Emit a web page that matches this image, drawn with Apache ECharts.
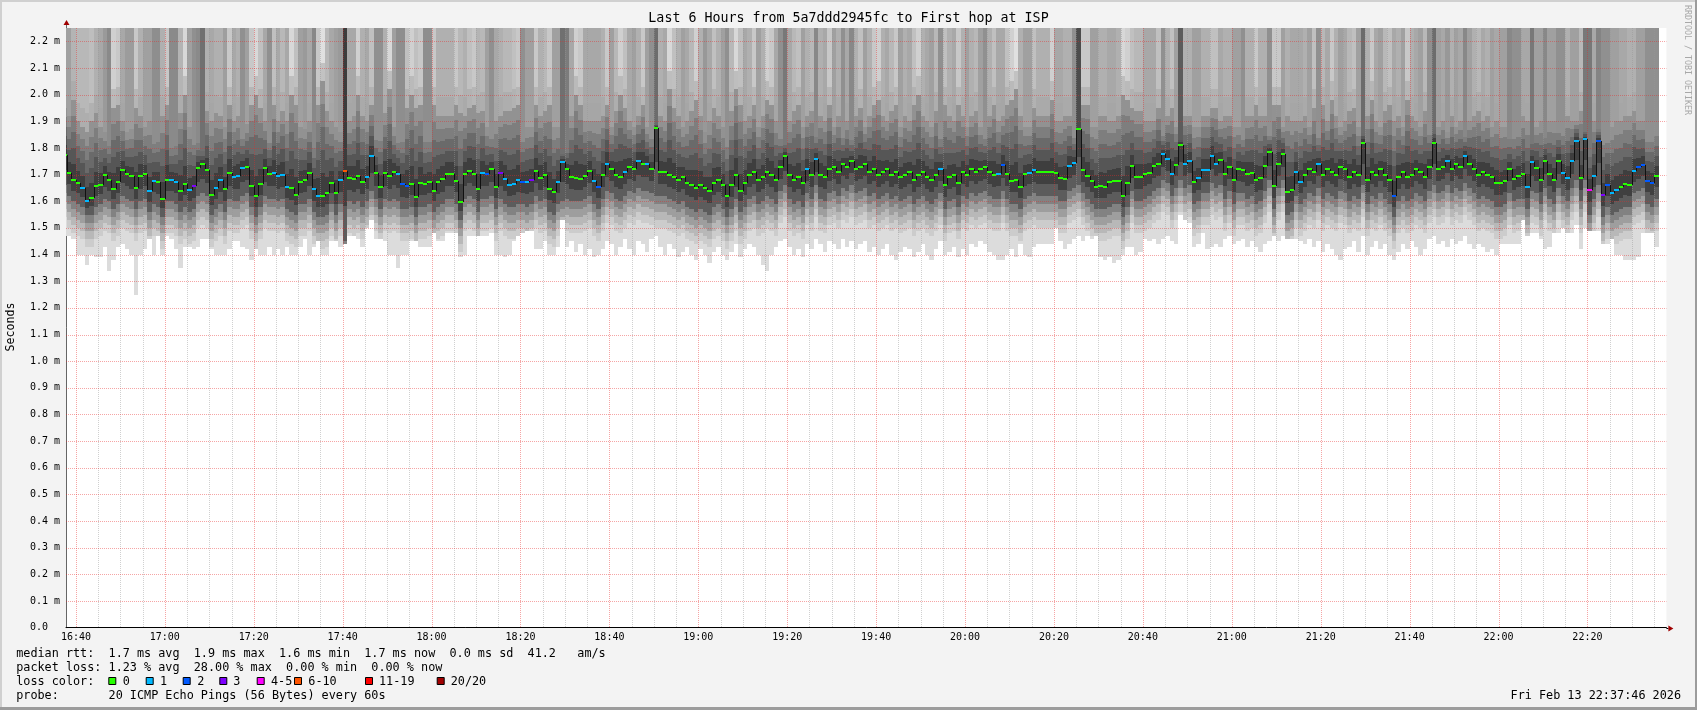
<!DOCTYPE html>
<html><head><meta charset="utf-8">
<script src="https://cdn.jsdelivr.net/npm/echarts@6/dist/echarts.min.js"></script>
<style>html,body{margin:0;padding:0;background:#f3f3f3}#c{width:1697px;height:710px}</style>
</head><body><div id="c"></div>
<script>
// ---------- data ----------
const titleText = 'Last 6 Hours from 5a7ddd2945fc to First hop at ISP';
const yAxisName = 'Seconds';
const watermark = 'RRDTOOL / TOBI OETIKER';
const legendLine1 = 'median rtt:  1.7 ms avg  1.9 ms max  1.6 ms min  1.7 ms now  0.0 ms sd  41.2   am/s';
const legendLine2 = 'packet loss: 1.23 % avg  28.00 % max  0.00 % min  0.00 % now';
const legendLine3 = 'loss color:';
const legendLine4 = 'probe:       20 ICMP Echo Pings (56 Bytes) every 60s';
const dateText = 'Fri Feb 13 22:37:46 2026';
const lossLabels = ['0','1','2','3','4-5','6-10','11-19','20/20'];
const lossColors = ['#26ff00','#00b8ff','#0059ff','#7e00ff','#ff00ff','#ff5500','#ff0000','#a10000'];

const xTickMinutes = [40,60,80,100,120,140,160,180,200,220,240,260,280,300,320,340,360,380];
const xTickLabels = ['16:40','17:00','17:20','17:40','18:00','18:20','18:40','19:00','19:20','19:40','20:00','20:20','20:40','21:00','21:20','21:40','22:00','22:20'];
const yTicks = [0,0.1,0.2,0.3,0.4,0.5,0.6,0.7,0.8,0.9,1.0,1.1,1.2,1.3,1.4,1.5,1.6,1.7,1.8,1.9,2.0,2.1,2.2];

// one column per minute, first column starts 16:37 (minutes after 16:00)
const firstMinute = 37;
const med = [
1.774,1.706,1.679,1.669,1.650,1.601,1.611,1.656,1.661,1.699,
1.679,1.646,1.671,1.716,1.701,1.695,1.650,1.695,1.701,1.638,
1.676,1.671,1.608,1.679,1.679,1.671,1.639,1.664,1.641,1.656,
1.725,1.739,1.716,1.624,1.650,1.679,1.645,1.706,1.691,1.695,
1.725,1.729,1.658,1.620,1.665,1.725,1.701,1.705,1.695,1.698,
1.654,1.649,1.624,1.671,1.679,1.706,1.645,1.620,1.620,1.630,
1.669,1.630,1.679,1.714,1.688,1.683,1.695,1.673,1.691,1.769,
1.706,1.654,1.706,1.695,1.709,1.702,1.664,1.658,1.665,1.616,
1.669,1.665,1.673,1.639,1.673,1.683,1.702,1.702,1.676,1.598,
1.702,1.714,1.702,1.645,1.706,1.702,1.721,1.654,1.707,1.684,
1.661,1.665,1.679,1.673,1.673,1.679,1.714,1.688,1.699,1.646,
1.634,1.671,1.747,1.721,1.691,1.688,1.684,1.695,1.714,1.676,
1.654,1.700,1.740,1.720,1.700,1.690,1.710,1.730,1.720,1.750,
1.740,1.740,1.720,1.876,1.710,1.710,1.700,1.690,1.680,1.690,
1.670,1.660,1.650,1.660,1.650,1.640,1.670,1.680,1.660,1.620,
1.660,1.700,1.640,1.670,1.700,1.710,1.680,1.690,1.710,1.700,
1.680,1.730,1.770,1.700,1.680,1.690,1.670,1.720,1.700,1.760,
1.700,1.690,1.720,1.730,1.710,1.740,1.730,1.750,1.720,1.730,
1.740,1.710,1.720,1.700,1.710,1.720,1.700,1.710,1.690,1.700,
1.710,1.680,1.700,1.710,1.690,1.680,1.700,1.720,1.660,1.690,
1.700,1.670,1.710,1.700,1.720,1.710,1.720,1.730,1.710,1.700,
1.701,1.737,1.701,1.676,1.678,1.654,1.702,1.706,1.716,1.710,
1.710,1.710,1.710,1.706,1.687,1.684,1.732,1.744,1.870,1.716,
1.695,1.676,1.654,1.658,1.654,1.672,1.676,1.676,1.620,1.670,
1.731,1.691,1.691,1.702,1.706,1.732,1.741,1.777,1.759,1.702,
1.736,1.811,1.740,1.751,1.672,1.687,1.717,1.717,1.770,1.740,
1.755,1.702,1.729,1.680,1.721,1.717,1.702,1.706,1.680,1.687,
1.732,1.785,1.658,1.740,1.777,1.635,1.643,1.710,1.672,1.700,
1.720,1.710,1.740,1.700,1.720,1.710,1.700,1.730,1.720,1.690,
1.710,1.700,1.820,1.680,1.710,1.700,1.720,1.700,1.680,1.620,
1.690,1.710,1.690,1.700,1.720,1.710,1.690,1.730,1.820,1.720,
1.730,1.750,1.720,1.740,1.730,1.770,1.740,1.720,1.700,1.710,
1.700,1.690,1.670,1.669,1.676,1.721,1.684,1.694,1.701,1.652,
1.747,1.725,1.679,1.751,1.701,1.679,1.751,1.706,1.687,1.751,
1.826,1.687,1.833,1.641,1.695,1.826,1.622,1.661,1.631,1.642,
1.654,1.665,1.661,1.714,1.729,1.736,1.676,1.669,1.695];
// loss color class per column (0 .. 7, index into lossColors)
const loss = [
0,0,0,0,1,1,0,0,0,0, 0,0,0,0,0,0,0,0,0,1, 1,0,0,0,1,1,0,0,1,3, 0,0,0,0,1,1,0,0,1,1,
1,0,0,0,0,0,0,1,1,1, 1,0,0,0,0,0,1,1,0,0, 0,0,1,5,0,0,0,0,1,1, 0,0,0,0,0,1,2,2,0,0,
0,0,0,0,0,0,0,0,0,0, 0,0,0,0,1,2,0,0,3,1, 1,1,1,2,1,3,0,0,0,0, 0,1,1,0,0,0,0,0,0,1,
2,0,1,0,0,0,1,0,0,1, 0,1,0,0,0,0,0,0,0,0, 0,0,0,0,0,0,0,0,0,0, 0,0,0,0,0,0,0,0,0,0,
0,0,0,0,0,0,0,1,0,1, 0,0,0,0,0,0,0,0,0,0, 0,0,0,0,0,0,0,0,0,0, 0,0,0,0,0,0,0,1,0,0,
0,0,0,0,0,0,0,0,0,0, 1,2,0,0,0,0,0,1,1,0, 0,0,0,0,0,0,1,1,0,0, 0,0,0,0,0,0,0,0,0,0,
0,0,0,0,0,0,0,1,1,1, 0,0,1,1,0,1,1,1,1,1, 0,0,0,0,0,0,0,0,0,0, 0,0,0,0,0,0,0,1,1,0,
0,0,1,0,0,0,0,0,0,0, 0,0,0,0,0,0,0,0,0,2, 0,0,0,0,0,0,0,0,0,0, 0,1,0,0,0,1,0,0,0,0,
0,0,0,0,0,0,0,0,0,1, 1,0,0,0,0,0,0,1,1,1, 1,0,1,4,1,2,3,2,1,1, 0,0,0,1,2,2,2,2,0];
// lowest ping per column
const lo = [
1.47,1.47,1.46,1.40,1.40,1.36,1.40,1.39,1.39,1.43, 1.34,1.38,1.43,1.44,1.42,1.40,1.25,1.40,1.42,1.46,
1.40,1.47,1.40,1.47,1.46,1.42,1.35,1.43,1.43,1.42, 1.43,1.46,1.46,1.42,1.40,1.40,1.40,1.42,1.45,1.45,
1.43,1.42,1.38,1.42,1.40,1.40,1.43,1.40,1.42,1.40, 1.43,1.40,1.40,1.43,1.46,1.40,1.43,1.45,1.40,1.40,
1.45,1.45,1.43,1.44,1.47,1.47,1.46,1.43,1.50,1.53, 1.46,1.46,1.45,1.40,1.40,1.35,1.40,1.40,1.45,1.45,
1.43,1.43,1.43,1.48,1.45,1.45,1.48,1.48,1.48,1.39, 1.40,1.47,1.47,1.47,1.47,1.47,1.48,1.40,1.40,1.39,
1.40,1.45,1.47,1.48,1.49,1.49,1.42,1.42,1.45,1.40, 1.40,1.43,1.53,1.43,1.45,1.41,1.44,1.40,1.42,1.39,
1.40,1.42,1.45,1.44,1.40,1.43,1.46,1.42,1.40,1.45, 1.44,1.41,1.46,1.47,1.43,1.40,1.44,1.42,1.39,1.41,
1.43,1.40,1.38,1.42,1.40,1.37,1.41,1.43,1.40,1.38, 1.41,1.44,1.39,1.42,1.44,1.43,1.40,1.36,1.34,1.40,
1.43,1.45,1.46,1.43,1.40,1.42,1.39,1.44,1.42,1.46, 1.44,1.41,1.45,1.44,1.42,1.46,1.43,1.45,1.42,1.44,
1.45,1.41,1.43,1.40,1.42,1.44,1.40,1.38,1.41,1.43, 1.42,1.39,1.41,1.44,1.40,1.38,1.42,1.45,1.40,1.41,
1.43,1.39,1.42,1.40,1.44,1.43,1.45,1.44,1.41,1.40, 1.38,1.38,1.40,1.42,1.39,1.44,1.40,1.39,1.43,1.44,
1.44,1.44,1.44,1.50,1.45,1.42,1.44,1.46,1.47,1.45, 1.47,1.46,1.47,1.39,1.38,1.39,1.37,1.38,1.40,1.43,
1.43,1.40,1.41,1.46,1.45,1.46,1.44,1.46,1.47,1.45, 1.44,1.55,1.53,1.52,1.43,1.44,1.48,1.42,1.43,1.44,
1.43,1.46,1.47,1.44,1.45,1.46,1.43,1.45,1.43,1.41, 1.44,1.45,1.47,1.45,1.47,1.46,1.46,1.46,1.45,1.44,
1.46,1.43,1.45,1.41,1.44,1.42,1.40,1.38,1.42,1.43, 1.45,1.41,1.47,1.40,1.43,1.45,1.42,1.44,1.40,1.38,
1.41,1.44,1.42,1.45,1.43,1.40,1.42,1.46,1.47,1.44, 1.45,1.43,1.46,1.44,1.45,1.47,1.44,1.42,1.44,1.43,
1.41,1.42,1.40,1.44,1.44,1.44,1.44,1.44,1.53,1.47, 1.48,1.48,1.46,1.42,1.43,1.48,1.48,1.50,1.48,1.48,
1.51,1.42,1.50,1.49,1.49,1.49,1.44,1.44,1.46,1.40, 1.40,1.38,1.38,1.38,1.39,1.48,1.48,1.48,1.43];
// lower edge of the dense (dark) smoke
const dl = [
1.66,1.62,1.60,1.59,1.58,1.55,1.55,1.58,1.59,1.61, 1.60,1.57,1.59,1.62,1.61,1.60,1.57,1.60,1.61,1.56,
1.59,1.58,1.54,1.60,1.60,1.59,1.56,1.58,1.56,1.57, 1.62,1.63,1.62,1.55,1.57,1.59,1.56,1.61,1.60,1.60,
1.62,1.63,1.58,1.54,1.58,1.62,1.61,1.61,1.60,1.61, 1.57,1.56,1.55,1.59,1.59,1.61,1.56,1.54,1.54,1.55,
1.59,1.55,1.59,1.45,1.60,1.59,1.60,1.58,1.60,1.64, 1.61,1.57,1.61,1.60,1.61,1.60,1.57,1.57,1.58,1.54,
1.58,1.58,1.59,1.56,1.58,1.59,1.61,1.61,1.59,1.53, 1.61,1.62,1.61,1.56,1.61,1.61,1.62,1.57,1.61,1.59,
1.58,1.58,1.59,1.59,1.58,1.59,1.62,1.60,1.61,1.56, 1.55,1.59,1.60,1.61,1.60,1.60,1.60,1.61,1.62,1.59,
1.57,1.61,1.64,1.63,1.61,1.60,1.62,1.64,1.63,1.65, 1.64,1.64,1.63,1.62,1.62,1.62,1.61,1.60,1.59,1.60,
1.58,1.57,1.56,1.57,1.56,1.55,1.58,1.59,1.57,1.54, 1.57,1.61,1.56,1.58,1.61,1.62,1.59,1.60,1.62,1.61,
1.59,1.64,1.66,1.61,1.59,1.60,1.58,1.63,1.61,1.66, 1.61,1.60,1.63,1.64,1.62,1.65,1.64,1.66,1.63,1.64,
1.65,1.62,1.63,1.61,1.62,1.63,1.61,1.62,1.60,1.61, 1.62,1.59,1.61,1.62,1.60,1.59,1.61,1.63,1.57,1.60,
1.61,1.58,1.62,1.61,1.63,1.62,1.63,1.64,1.62,1.61, 1.61,1.64,1.61,1.59,1.59,1.57,1.61,1.62,1.63,1.62,
1.62,1.62,1.62,1.62,1.60,1.60,1.64,1.65,1.66,1.63, 1.61,1.59,1.57,1.57,1.57,1.58,1.59,1.59,1.54,1.58,
1.64,1.60,1.60,1.61,1.62,1.64,1.65,1.68,1.67,1.62, 1.65,1.68,1.65,1.66,1.59,1.60,1.63,1.63,1.67,1.65,
1.66,1.61,1.64,1.59,1.63,1.63,1.61,1.62,1.59,1.60, 1.64,1.68,1.57,1.65,1.68,1.55,1.56,1.62,1.59,1.61,
1.63,1.62,1.65,1.61,1.63,1.62,1.61,1.64,1.63,1.60, 1.62,1.61,1.66,1.59,1.62,1.61,1.63,1.61,1.59,1.54,
1.60,1.62,1.60,1.61,1.63,1.62,1.60,1.64,1.66,1.63, 1.64,1.66,1.63,1.65,1.64,1.67,1.65,1.63,1.61,1.62,
1.61,1.60,1.58,1.58,1.59,1.63,1.60,1.61,1.61,1.57, 1.64,1.63,1.59,1.65,1.61,1.59,1.65,1.62,1.60,1.65,
1.68,1.60,1.68,1.55,1.61,1.66,1.54,1.58,1.55,1.56, 1.57,1.58,1.58,1.63,1.64,1.65,1.59,1.58,1.61];
// upper edge of the mid-grey smoke
const hi = [
1.95,1.92,1.98,1.90,1.88,1.86,1.90,1.93,1.88,1.86, 1.84,1.95,1.96,1.90,1.86,1.87,1.95,1.92,1.88,1.90,
1.85,1.86,1.92,1.96,1.83,1.84,1.93,2.00,1.88,1.85, 1.84,1.82,1.94,1.90,1.93,1.92,1.88,1.96,1.90,1.92,
1.86,1.89,1.96,2.00,1.95,1.90,1.85,1.96,1.90,1.94, 1.90,2.00,1.96,1.88,1.87,1.90,1.84,1.96,2.05,1.94,
1.90,1.88,1.86,1.80,1.90,1.92,2.00,1.92,1.90,1.96, 1.86,1.87,1.93,2.02,1.88,1.85,1.86,1.95,2.00,1.95,
1.96,1.86,1.86,1.96,1.92,1.92,1.92,1.92,1.96,1.93, 1.92,1.95,1.96,1.93,1.94,1.88,1.86,1.90,1.92,1.94,
1.94,1.95,1.96,1.86,1.88,1.88,1.96,1.92,1.94,1.96, 1.88,1.88,1.80,1.82,1.92,2.00,1.96,1.90,1.90,1.90,
1.90,1.92,1.96,1.88,1.94,2.00,1.95,1.90,1.88,1.92, 1.96,1.88,1.86,1.90,1.92,1.90,2.02,1.95,1.92,1.88,
1.90,1.94,1.98,1.92,1.86,1.90,1.95,1.92,1.88,1.85, 1.94,2.02,1.96,1.90,1.92,1.96,1.88,1.92,1.98,1.96,
1.90,1.86,1.84,1.90,1.94,1.96,1.88,1.92,1.94,1.86, 1.92,1.90,1.96,1.88,1.92,1.86,1.90,1.85,1.92,1.95,
1.88,1.92,1.96,1.98,1.92,1.90,1.94,1.96,1.88,1.92, 1.90,1.96,2.00,1.92,1.90,1.88,1.94,1.86,1.96,1.92,
1.90,1.96,1.92,1.88,1.92,1.94,1.88,1.86,1.92,1.96, 1.90,1.92,1.96,1.98,2.02,1.92,1.88,1.88,1.95,1.92,
1.92,1.92,1.98,1.90,1.90,1.92,1.92,1.86,1.90,1.96, 1.96,1.88,1.88,1.92,1.92,1.90,1.90,1.92,2.00,1.98,
1.95,1.94,1.94,1.90,1.90,1.90,1.95,1.86,1.92,1.95, 1.88,1.86,1.92,1.92,1.88,1.88,1.92,1.92,1.95,1.95,
1.90,1.92,1.92,1.88,1.88,1.86,1.92,1.92,1.96,1.92, 1.92,1.86,1.96,1.96,1.88,1.92,1.90,1.90,1.90,1.92,
1.88,1.95,1.86,1.96,1.90,1.98,1.92,1.88,1.90,1.94, 1.95,1.88,1.88,1.92,1.98,1.90,1.88,1.94,1.96,1.90,
1.92,1.88,1.98,1.92,1.90,1.88,1.94,1.88,1.90,1.88, 1.90,1.86,1.92,1.88,1.90,1.86,1.90,1.92,1.94,1.90,
1.92,1.88,1.90,1.88,1.88,1.86,1.87,1.88,1.92,1.90, 1.86,1.88,1.90,1.86,1.90,1.90,1.88,1.88,1.92,1.90,
1.90,1.94,1.88,1.85,1.90,1.88,1.86,1.86,1.88,1.90, 1.90,1.92,1.92,1.94,1.90,1.90,1.86,1.86,1.88];
// grey level of the clipped top of each smoke column
const tone = [
0xa0,0xa0,0xb4,0xb8,0xb8,0xb8,0xbe,0xb0,0xa8,0x9a, 0x8a,0xd0,0xc8,0xa8,0x9c,0x9c,0xc8,0xb0,0xa0,0xa0,
0x8e,0x8e,0xb0,0xc8,0x8a,0x8a,0xb4,0xd8,0xa0,0x90, 0x8a,0x70,0xb0,0xa8,0xb0,0xb0,0x9e,0xc8,0xa8,0xb0,
0x90,0xa0,0xc8,0xd8,0xc0,0xa8,0x90,0xc0,0xa8,0xb8, 0xa8,0xd8,0xc0,0xa0,0x9a,0xa8,0x88,0xc8,0xe0,0xb8,
0xa8,0xa0,0x9a,0x3c,0xa8,0xa8,0xd0,0xb0,0xa8,0xc0, 0x90,0x90,0xb0,0xd8,0xa0,0x8e,0x8e,0xc0,0xd0,0xc0,
0xc8,0x8e,0x8e,0xc8,0xb0,0xb0,0xb0,0xb0,0xc8,0xb8, 0xb0,0xc0,0xc8,0xb4,0xb8,0xa0,0x90,0xa8,0xb0,0xb8,
0xb8,0xc0,0xc8,0x90,0xa0,0xa0,0xc8,0xb0,0xb8,0xc8, 0xa0,0xa0,0x70,0x7c,0xa8,0xd0,0xc8,0xa8,0xa8,0xa8,
0xa8,0xb0,0xc8,0xa0,0xb8,0xd0,0xc0,0xa8,0xa0,0xb0, 0xc8,0xa0,0x90,0x6c,0xb0,0xa8,0xd8,0xc0,0xb0,0xa0,
0xa8,0xb8,0xd0,0xb0,0x98,0xa8,0xc0,0xb0,0xa0,0x90, 0xb8,0xd8,0xc0,0xa8,0xb0,0xc8,0xa0,0xb0,0xd0,0xc8,
0xa8,0x90,0x78,0xa8,0xb8,0xc0,0xa0,0xb0,0xb8,0x88, 0xb0,0xa8,0xc8,0xa0,0xb0,0x90,0xa8,0x88,0xb0,0xc0,
0xa0,0xb0,0xc8,0xd0,0xb0,0xa8,0xb8,0xc8,0xa0,0xb0, 0xa8,0xc0,0xd0,0xb0,0xa8,0xa0,0xb8,0x90,0xc0,0xb0,
0xa8,0xc8,0xb0,0xa0,0xb0,0xb8,0xa0,0x90,0xb0,0xc0, 0xa8,0xa8,0xc0,0xd0,0xe0,0xb0,0xa0,0xa0,0xc0,0xb0,
0xb0,0xb0,0xd0,0xa8,0xa8,0xb0,0xb0,0x90,0x4c,0xc8, 0xc8,0xa0,0xa0,0xb0,0xb0,0xa8,0xa8,0xb0,0xd8,0xd0,
0xc0,0xb8,0xb8,0xa8,0xa8,0xa8,0xc0,0x90,0xb0,0xc0, 0xa0,0x5c,0xb0,0xb0,0xa0,0xa0,0xb0,0xb0,0xc0,0xc0,
0xa8,0xb0,0xb0,0xa0,0xa0,0x90,0xb0,0xb0,0xc8,0xb0, 0xb0,0x90,0xc8,0xc8,0xa0,0xb0,0xa8,0xa8,0xa8,0xb0,
0xa0,0xc0,0x90,0xb8,0xa8,0xc8,0xb0,0xa0,0xa8,0xb8, 0xc0,0xa0,0x6c,0xb0,0xc8,0xa8,0xa0,0xb8,0xc0,0xa8,
0xb0,0xa0,0xc8,0xb0,0xa8,0xa0,0xb8,0x90,0x6c,0xa0, 0xa8,0x98,0xb0,0xa0,0xa8,0x88,0xa0,0xb0,0xb8,0xa8,
0xb0,0xa0,0xa8,0xa0,0xa0,0x88,0x90,0x90,0xa8,0xa8, 0x78,0xa0,0xa0,0x88,0xa0,0xa0,0x90,0x90,0xb0,0xa0,
0xa0,0xb8,0x78,0x78,0xa8,0x84,0x90,0x90,0xa0,0xa0, 0xa8,0xa8,0xb0,0xb0,0xa0,0xa0,0x90,0x90,0x90];

// ---------- chart ----------
const X_MIN = 37 + 46/60, X_MAX = X_MIN + 360, Y_MAX = 2.25;
const MONO = '"DejaVu Sans Mono", "Liberation Mono", monospace';
const xMinor = [];
for (let m = 45; m < X_MAX; m += 5) if (m % 20 !== 0) xMinor.push(m);

function g(v){ v = Math.max(0, Math.min(255, Math.round(v))); const h = v.toString(16).padStart(2,'0'); return '#'+h+h+h; }
function colX(api, i){
  const a = Math.max(api.coord([firstMinute+i, 0])[0], api.coord([X_MIN,0])[0]);
  const b = Math.min(api.coord([firstMinute+i+1, 0])[0], api.coord([X_MAX,0])[0]);
  return [Math.round(a), Math.round(b)];
}
function smokeRender(params, api){
  const i = api.value(2);
  const m = med[i], L = lo[i], D = dl[i], H = hi[i], T = tone[i];
  const [x0, x1] = colX(api, i);
  if (x1 <= x0) return;
  const bands = [];
  const lowEdges = [D-0.12, D-0.09, D-0.06, D-0.03, D];
  const lowCols = [0xdc, 0xcc, 0xb8, 0x9e, 0x82];
  let prev = L;
  for (let k = 0; k < 5; k++){ const e = Math.max(L, lowEdges[k]); if (e > prev){ bands.push([prev, e, lowCols[k]]); prev = e; } }
  const mid = (prev + m) / 2;
  bands.push([prev, mid, 0x5c]); bands.push([mid, m, 0x40]);
  const s = H - m;
  [[m, m+s*0.2, 0x3e],[m+s*0.2, m+s*0.4, 0x56],[m+s*0.4, m+s*0.6, 0x6a],[m+s*0.6, m+s*0.8, 0x7e],[m+s*0.8, H, 0x92],[H, H+0.07, (0xa4+T)/2],[H+0.07, Y_MAX+1, T]]
    .forEach(b => bands.push([b[0], b[1], Math.min(b[2], T)]));
  const children = [];
  bands.forEach(b => {
    const a = Math.max(0, b[0]), c = Math.min(Y_MAX, b[1]);
    if (c <= a) return;
    const ya = Math.round(api.coord([X_MIN, a])[1]), yc = Math.round(api.coord([X_MIN, c])[1]);
    if (ya - yc <= 0) return;
    children.push({type:'rect', shape:{x:x0, y:yc, width:x1-x0, height:ya-yc}, style:{fill:g(b[2])}});
  });
  return {type:'group', children};
}
function medRender(params, api){
  const i = api.value(2);
  const [x0, x1] = colX(api, i);
  if (x1 <= x0) return;
  const y = api.coord([X_MIN, med[i]])[1];
  const children = [];
  if (i > 0){
    const yp = api.coord([X_MIN, med[i-1]])[1];
    children.push({type:'line', shape:{x1:x0+0.5, y1:Math.round(yp), x2:x0+0.5, y2:Math.round(y)}, style:{stroke:'#111', lineWidth:1}});
  }
  children.push({type:'rect', shape:{x:x0, y:Math.round(y)-1, width:x1-x0, height:2}, style:{fill:lossColors[loss[i]]}});
  return {type:'group', children};
}
function vlineRender(color){
  return function(params, api){
    const x = Math.round(api.coord([api.value(0), 0])[0]) + 0.5;
    const yb = api.coord([X_MIN, 0])[1], yt = api.coord([X_MIN, Y_MAX])[1];
    return {type:'line', shape:{x1:x, y1:yt, x2:x, y2:yb}, style:{stroke:color, lineWidth:1, lineDash:[1,1]}};
  };
}
function hlineRender(params, api){
  const y = Math.round(api.coord([X_MIN, api.value(1)])[1]) + 0.5;
  const xl = api.coord([X_MIN, 0])[0], xr = api.coord([X_MAX, 0])[0];
  return {type:'line', shape:{x1:xl, y1:y, x2:xr, y2:y}, style:{stroke:'rgba(230,40,40,0.42)', lineWidth:1, lineDash:[1,1]}};
}

const colData = med.map((v, i) => [firstMinute + i + 0.5, v, i]);
const chart = echarts.init(document.getElementById('c'), null, {renderer:'canvas'});
const option = {
  animation: false,
  backgroundColor: '#f3f3f3',
  grid: {left: 66, right: 30.6, top: 28, bottom: 82.3, show: true, backgroundColor: '#ffffff', borderWidth: 0},
  xAxis: {
    type: 'value', min: X_MIN, max: X_MAX,
    axisLine: {show: true, lineStyle: {color: '#000', width: 1}},
    axisTick: {show: false}, splitLine: {show: false},
    axisLabel: {customValues: xTickMinutes, margin: 5, color: '#000', fontFamily: MONO, fontSize: 10,
      formatter: v => { const k = xTickMinutes.indexOf(Math.round(v)); return k >= 0 ? xTickLabels[k] : ''; }}
  },
  yAxis: {
    type: 'value', min: 0, max: Y_MAX, interval: 0.1,
    axisLine: {show: true, lineStyle: {color: '#666', width: 1}},
    axisTick: {show: false}, splitLine: {show: false},
    axisLabel: {customValues: yTicks, align: 'left', margin: 36, color: '#000', fontFamily: MONO, fontSize: 10,
      formatter: v => v > 2.21 ? '' : (v < 0.05 ? '0.0' : v.toFixed(1) + ' m')}
  },
  series: [
    {type:'custom', z:1, silent:true, renderItem: smokeRender, encode:{x:0, y:1}, data: colData},
    {type:'custom', z:2, silent:true, renderItem: vlineRender('rgba(150,150,150,0.45)'), encode:{x:0, y:1}, data: xMinor.map(v => [v, 0])},
    {type:'custom', z:2, silent:true, renderItem: vlineRender('rgba(230,40,40,0.42)'), encode:{x:0, y:1}, data: xTickMinutes.map(v => [v, 0])},
    {type:'custom', z:2, silent:true, renderItem: hlineRender, encode:{x:0, y:1}, data: yTicks.filter(v => v > 0).map(v => [X_MIN, v])},
    {type:'custom', z:3, silent:true, renderItem: medRender, encode:{x:0, y:1}, data: colData}
  ]
};
chart.setOption(option);

// decorations: text, legend, frame, axis arrows
const p0 = chart.convertToPixel({gridIndex:0}, [X_MIN, 0]);
const p1 = chart.convertToPixel({gridIndex:0}, [X_MAX, Y_MAX]);
function txt(x, y, text, size, align){
  align = align || 'left';
  return {type:'text', z:100, silent:true, x:x, y:y,
    style:{x:0, y:0, text:text, font: size + 'px ' + MONO, fill:'#000', align:align, textAlign:align, verticalAlign:'middle', textVerticalAlign:'middle'}};
}
const LEG_X = 16.2, LEG_SIZE = 11.8;
const boxX = [108.3, 145.7, 182.7, 219.3, 256.7, 294, 365, 436.7];
const labX = [122.7, 160, 197.3, 233.3, 271, 308.3, 379, 450.7];
const ax = Math.round(p0[0]) + 0.5, ay = Math.round(p0[1]) + 0.5;
const gfx = [
  {type:'rect', z:99, silent:true, shape:{x:0, y:0, width:1697, height:2}, style:{fill:'#d0d0d0'}},
  {type:'rect', z:99, silent:true, shape:{x:0, y:0, width:2, height:710}, style:{fill:'#d0d0d0'}},
  {type:'rect', z:99, silent:true, shape:{x:0, y:707, width:1697, height:3}, style:{fill:'#9c9c9c'}},
  {type:'rect', z:99, silent:true, shape:{x:1695, y:0, width:2, height:710}, style:{fill:'#9c9c9c'}},
  {type:'line', z:99, silent:true, shape:{x1:ax, y1:p1[1]-5, x2:ax, y2:p1[1]}, style:{stroke:'#666', lineWidth:1}},
  {type:'polygon', z:99, silent:true, shape:{points:[[ax, p1[1]-8],[ax-3, p1[1]-3],[ax+3, p1[1]-3]]}, style:{fill:'#a00000'}},
  {type:'line', z:99, silent:true, shape:{x1:p1[0], y1:ay, x2:p1[0]+2, y2:ay}, style:{stroke:'#000', lineWidth:1}},
  {type:'polygon', z:99, silent:true, shape:{points:[[p1[0]+7, ay],[p1[0]+2, ay-3],[p1[0]+2, ay+3]]}, style:{fill:'#a00000'}},
  txt(848.5, 18.4, titleText, 13.3, 'center'),
  {type:'text', z:100, silent:true, x:10.8, y:327, rotation:Math.PI/2,
    style:{x:0, y:0, text:yAxisName, font:'11.6px '+MONO, fill:'#000', align:'center', textAlign:'center', verticalAlign:'middle', textVerticalAlign:'middle'}},
  {type:'text', z:100, silent:true, x:1686.7, y:60, rotation:-Math.PI/2,
    style:{x:0, y:0, text:watermark, font:'8.3px '+MONO, fill:'#a8a8a8', align:'center', textAlign:'center', verticalAlign:'middle', textVerticalAlign:'middle'}},
  txt(LEG_X, 653.8, legendLine1, LEG_SIZE),
  txt(LEG_X, 667.8, legendLine2, LEG_SIZE),
  txt(LEG_X, 681.8, legendLine3, LEG_SIZE),
  txt(LEG_X, 695.9, legendLine4, LEG_SIZE),
  txt(1681, 695.9, dateText, LEG_SIZE, 'right')
];
lossLabels.forEach((lab, k) => {
  gfx.push({type:'rect', z:100, silent:true, shape:{x:boxX[k]+0.5, y:677.5, width:7, height:7}, style:{fill:lossColors[k], stroke:'#000', lineWidth:1}});
  gfx.push(txt(labX[k], 681.8, lab, LEG_SIZE));
});
chart.setOption({graphic: gfx});
</script>
</body></html>
